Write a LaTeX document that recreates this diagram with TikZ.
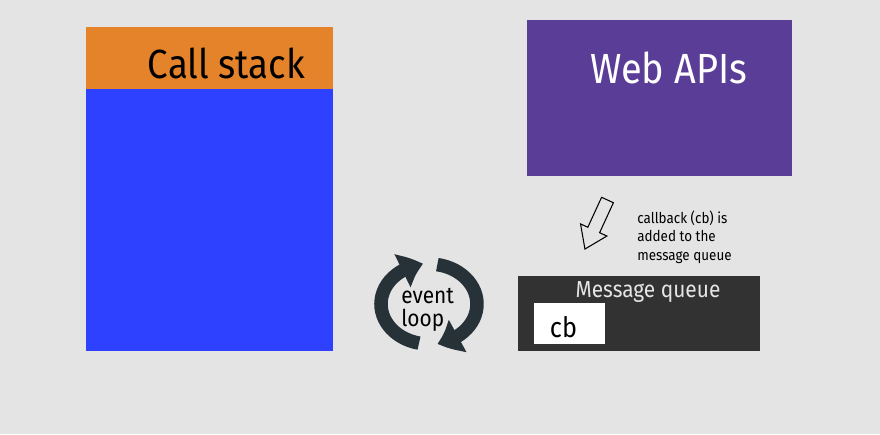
\documentclass[tikz,border=0pt]{standalone}
\usepackage{fontspec}
\setmainfont[FakeStretch=0.9]{Fira Sans}
\usetikzlibrary{arrows.meta,bending}
\definecolor{fond}{HTML}{E4E4E4}
\definecolor{orangepile}{HTML}{E5832B}
\definecolor{bleupile}{HTML}{2E41FF}
\definecolor{violetapi}{HTML}{5A3D96}
\definecolor{grisfile}{HTML}{333232}
\definecolor{ardoise}{HTML}{263238}
\tikzset{
  texte/.style={inner sep=0pt,anchor=base},
  boucle/.style={draw=ardoise,line width=0.27cm,
    -{Triangle[length=0.44cm,width=0.7cm,bend]}},
}
\begin{document}
\begin{tikzpicture}[x=0.02cm,y=0.02cm]
\fill[fond] (0,0) rectangle (880,434);
\useasboundingbox (0,0) rectangle (880,434);
% Pile d'appels
\fill[orangepile] (86,345) rectangle (333,407);
\fill[bleupile] (86,83) rectangle (333,345);
\node[texte,font=\fontsize{23.2}{28}\selectfont] (callstack) at (226.5,356) {Call stack};
% Web APIs
\fill[violetapi] (527,258) rectangle (792,414);
\node[texte,text=white,font=\fontsize{24}{28}\selectfont] (webapis) at (668.5,351) {Web APIs};
% Flèche creuse
\begin{scope}[shift={(607.5,234)},rotate=245.3]
\draw[fill=fond,line width=0.6pt] (0,6.5) -- (33,6.5) -- (33,14.5) -- (54,0)
  -- (33,-14.5) -- (33,-6.5) -- (0,-6.5) -- cycle;
\end{scope}
% Légende de la flèche
\foreach \i/\ligne in {0/callback (cb) is, 1/added to the, 2/message queue} {
\node[texte,anchor=base west,font=\fontsize{8.5}{10}\selectfont] (legende\i) at (637,211-18.7*\i) {\ligne};
}
% Boucle d'événements
\draw[boucle] (429,130) ++(258:48 and 40) arc[start angle=258,end angle=97,x radius=48,y radius=40];
\draw[boucle] (429,130) ++(80:48 and 40) arc[start angle=80,end angle=-80,x radius=48,y radius=40];
\node[texte,anchor=base west,font=\fontsize{13.2}{16}\selectfont] (event) at (401,131) {event};
\node[texte,anchor=base west,font=\fontsize{13.2}{16}\selectfont] (loop) at (401,108) {loop};
% File de messages
\fill[grisfile] (518,83) rectangle (760,158);
\node[texte,text=fond!95!white,font=\fontsize{13.2}{16}\selectfont] (file) at (648,136.7) {Message queue};
\fill[white] (534,90) rectangle (605,131);
\node[texte,font=\fontsize{16}{19}\selectfont] (cb) at (563.5,96.3) {cb};
\end{tikzpicture}
\end{document}
